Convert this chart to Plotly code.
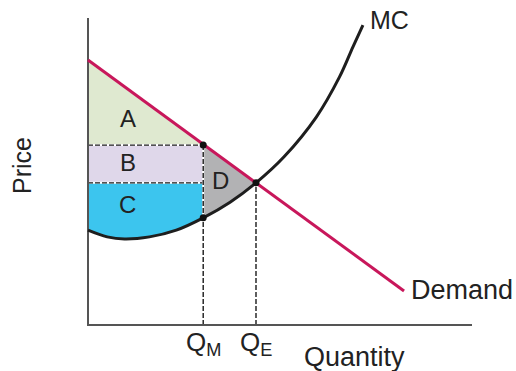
import plotly.graph_objects as go

# demand line (quantity, price)
demand_q = [0, 8.23]
demand_p = [8.63, 1.11]

# marginal cost curve
mc_q = [0, 0.5, 0.95, 1.6, 2.3, 3.0, 3.7, 4.375, 5.1, 5.95, 6.55, 6.9, 7.16]
mc_p = [3.09, 2.87, 2.80, 2.87, 3.09, 3.49, 4.0, 4.63, 5.47, 6.78, 8.08, 9.06, 9.77]

q_m, p_m = 3.0, 5.86
q_e, p_e = 4.375, 4.63
mc_at_qm = 3.49

font = "Liberation Sans, Arial, sans-serif"
ink = "#222222"

fig = go.Figure()

# area A
fig.add_trace(go.Scatter(x=[0, 0, q_m], y=[demand_p[0], p_m, p_m], fill="toself",
                         fillcolor="#dfe9d0", line=dict(width=0), mode="lines", hoverinfo="skip"))
# area B
fig.add_trace(go.Scatter(x=[0, q_m, q_m, 0], y=[p_m, p_m, p_e, p_e], fill="toself",
                         fillcolor="#dfd7ea", line=dict(width=0), mode="lines", hoverinfo="skip"))
# area C: between P_E and MC up to Q_M
low = [(q, p) for q, p in zip(mc_q, mc_p) if q <= q_m]
cx = [0, q_m] + [q for q, p in reversed(low)]
cy = [p_e, p_e] + [p for q, p in reversed(low)]
fig.add_trace(go.Scatter(x=cx, y=cy, fill="toself", fillcolor="#3cc5ee",
                         line=dict(width=0), mode="lines", hoverinfo="skip"))
# area D: deadweight loss
mid = [(q, p) for q, p in zip(mc_q, mc_p) if q_m <= q <= q_e]
dx = [q_m, q_e] + [q for q, p in reversed(mid)]
dy = [p_m, p_e] + [p for q, p in reversed(mid)]
fig.add_trace(go.Scatter(x=dx, y=dy, fill="toself", fillcolor="#b2b2b4",
                         line=dict(width=0), mode="lines", hoverinfo="skip"))

# dashed guides (white under dark dashes)
guides = [([0, q_m], [p_m, p_m]), ([0, q_m], [p_e, p_e]),
          ([q_m, q_m], [0, p_m]), ([q_e, q_e], [0, p_e])]
for gx, gy in guides:
    fig.add_trace(go.Scatter(x=gx, y=gy, mode="lines", line=dict(color="white", width=2),
                             hoverinfo="skip"))
    fig.add_trace(go.Scatter(x=gx, y=gy, mode="lines",
                             line=dict(color="#1a1a1a", width=1.4, dash="5px,2px"), hoverinfo="skip"))

# axes
fig.add_trace(go.Scatter(x=[0, 0, 10], y=[10, 0, 0], mode="lines",
                         line=dict(color="#555555", width=2), hoverinfo="skip"))

# curves
fig.add_trace(go.Scatter(x=demand_q, y=demand_p, mode="lines",
                         line=dict(color="#c8175b", width=3), hoverinfo="skip"))
fig.add_trace(go.Scatter(x=mc_q, y=mc_p, mode="lines", line_shape="spline",
                         line=dict(color="#1e1e1e", width=3), hoverinfo="skip"))

# points
fig.add_trace(go.Scatter(x=[q_m, q_m, q_e], y=[p_m, mc_at_qm, p_e], mode="markers",
                         marker=dict(color="#111111", size=7), hoverinfo="skip"))

labels = [("A", 1.04, 6.74), ("B", 1.04, 5.28), ("C", 1.04, 3.91), ("D", 3.46, 4.72)]
for t, x, y in labels:
    fig.add_annotation(x=x, y=y, text=t, showarrow=False, font=dict(size=24, color=ink, family=font))

fig.add_annotation(x=7.3, y=9.93, text="MC", showarrow=False, xanchor="left",
                   font=dict(size=25, color=ink, family=font))
fig.add_annotation(x=8.36, y=1.14, text="Demand", showarrow=False, xanchor="left",
                   font=dict(size=27, color=ink, family=font))
fig.add_annotation(x=-1.72, y=5.21, text="Price", showarrow=False, textangle=-90,
                   font=dict(size=25, color=ink, family=font))
fig.add_annotation(x=6.95, y=-1.04, text="Quantity", showarrow=False,
                   font=dict(size=27, color=ink, family=font))
fig.add_annotation(x=q_m, y=-0.6, text="Q<sub>M</sub>", showarrow=False,
                   font=dict(size=26, color=ink, family=font))
fig.add_annotation(x=q_e, y=-0.6, text="Q<sub>E</sub>", showarrow=False,
                   font=dict(size=26, color=ink, family=font))

fig.update_layout(
    width=516, height=371,
    margin=dict(l=0, r=0, t=0, b=0),
    paper_bgcolor="white", plot_bgcolor="white",
    showlegend=False,
    xaxis=dict(range=[-2.2917, 11.146], visible=False, fixedrange=True),
    yaxis=dict(range=[-1.498, 10.586], visible=False, fixedrange=True),
)

fig.write_html("out.html", config={"displayModeBar": False},
               post_script="document.body.style.margin='0';")
